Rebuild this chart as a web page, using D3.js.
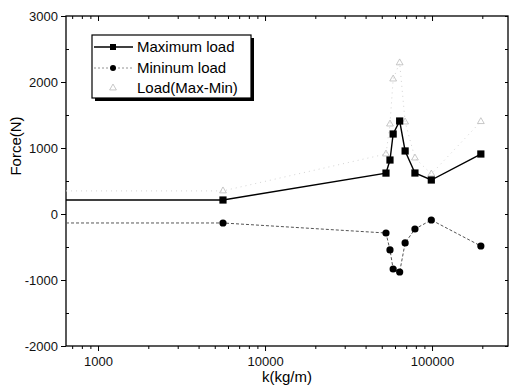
<!DOCTYPE html>
<html lang="en">
<head>
<meta charset="utf-8" />
<title>Force vs k</title>
<script src="https://d3js.org/d3.v7.min.js"></script>
<style>
  body{margin:0;background:#fff;font-family:"Liberation Sans",Arial,sans-serif;}
  svg{display:block;}
  .tick text{font-size:13px;fill:#111;}
</style>
</head>
<body>
<svg id="chart" width="510" height="388"></svg>
<script>
// -------- DATA --------
// first k value lies left of the axis: it only carries the flat lead-in segment
const K       = [100, 5600, 53000, 56000, 58500, 64000, 69000, 79000, 99000, 196000];
const MAXLOAD = [212, 212, 620, 818, 1212, 1409, 955, 621, 515, 909];
const MINLOAD = [-136, -136, -288, -545, -833, -879, -439, -227, -91, -485];
const RANGE   = [350, 350, 909, 1363, 2045, 2290, 1394, 848, 606, 1400];
const SERIES_NAMES = ['Maximum load','Mininum load','Load(Max-Min)'];
const Y_TICKS = [-2000,-1000,0,1000,2000,3000];
const X_TICKS = [1000,10000,100000];

const svg=d3.select('#chart');
const L=66,R=508,T=16,B=346;
const x=d3.scaleLog().domain([643,285000]).range([L,R]);
const y=d3.scaleLinear().domain([-2000,3000]).range([B,T]);

svg.append('clipPath').attr('id','clip').append('rect')
  .attr('x',L).attr('y',T).attr('width',R-L).attr('height',B-T);

// minor ticks for log axis
const xMinor=[];
[100,1000,10000,100000].forEach(d=>{for(let i=2;i<=9;i++){const v=d*i;if(v>643&&v<285000)xMinor.push(v);}});
const yMinor=d3.range(-1500,3000,1000);

// -------- AXES --------
const fmt=d=>String(d);   // plain hyphen for negatives
const ax=svg.append('g');
ax.append('rect').attr('x',L).attr('y',T).attr('width',R-L).attr('height',B-T)
  .attr('fill','none').attr('stroke','#000').attr('stroke-width',1.3);

ax.append('g').attr('transform',`translate(${L},0)`)
  .call(d3.axisLeft(y).tickValues(Y_TICKS).tickSize(5).tickFormat(fmt))
  .call(g=>g.select('.domain').remove());
ax.append('g').attr('transform',`translate(${L},0)`)
  .call(d3.axisRight(y).tickValues(yMinor).tickSize(3).tickFormat(''))
  .call(g=>g.select('.domain').remove());
ax.append('g').attr('transform',`translate(${R},0)`)
  .call(d3.axisLeft(y).tickValues(Y_TICKS.concat(yMinor)).tickSize(3).tickFormat(''))
  .call(g=>g.select('.domain').remove());

ax.append('g').attr('transform',`translate(0,${B})`)
  .call(d3.axisBottom(x).tickValues(X_TICKS).tickSize(5).tickPadding(6).tickFormat(fmt))
  .call(g=>g.select('.domain').remove());
ax.append('g').attr('transform',`translate(0,${B})`)
  .call(d3.axisBottom(x).tickValues(xMinor).tickSize(3).tickFormat(''))
  .call(g=>g.select('.domain').remove());
ax.append('g').attr('transform',`translate(0,${T})`)
  .call(d3.axisBottom(x).tickValues(X_TICKS).tickSize(5).tickFormat(''))
  .call(g=>g.select('.domain').remove());
ax.append('g').attr('transform',`translate(0,${T})`)
  .call(d3.axisBottom(x).tickValues(xMinor).tickSize(3).tickFormat(''))
  .call(g=>g.select('.domain').remove());
ax.selectAll('.tick line').attr('stroke','#000').attr('stroke-width',1);

svg.append('text').attr('x',287).attr('y',382).attr('text-anchor','middle')
  .attr('font-size',15).text('k(kg/m)');
svg.append('text').attr('transform','translate(21,146) rotate(-90)').attr('text-anchor','middle')
  .attr('font-size',15).text('Force(N)');

// -------- SERIES --------
const pts=vals=>K.map((k,i)=>({k,v:vals[i]}));
const line=d3.line().x(d=>x(d.k)).y(d=>y(d.v));
const plot=svg.append('g').attr('clip-path','url(#clip)');
const styles=[
  {vals:RANGE,  stroke:'#d4d4d4',dash:'1,4',w:1},
  {vals:MINLOAD,stroke:'#555',   dash:'3,2',w:1},
  {vals:MAXLOAD,stroke:'#000',   dash:null, w:1.4}
];
styles.forEach(s=>{
  plot.append('path').datum(pts(s.vals)).attr('fill','none')
    .attr('stroke',s.stroke).attr('stroke-width',s.w)
    .attr('stroke-dasharray',s.dash).attr('d',line);
});
const inside=d=>d.k>643;
const tri=d3.symbol().type(d3.symbolTriangle).size(20);
plot.selectAll('.tri').data(pts(RANGE).filter(inside)).enter().append('path')
  .attr('transform',d=>`translate(${x(d.k)},${y(d.v)})`).attr('d',tri)
  .attr('fill','none').attr('stroke','#b0b0b0').attr('stroke-width',0.7);
plot.selectAll('.circ').data(pts(MINLOAD).filter(inside)).enter().append('circle')
  .attr('cx',d=>x(d.k)).attr('cy',d=>y(d.v)).attr('r',3.6).attr('fill','#000');
plot.selectAll('.sq').data(pts(MAXLOAD).filter(inside)).enter().append('rect')
  .attr('x',d=>x(d.k)-3.6).attr('y',d=>y(d.v)-3.6).attr('width',7.2).attr('height',7.2).attr('fill','#000');

// -------- LEGEND --------
const lg=svg.append('g');
lg.append('rect').attr('x',95).attr('y',38).attr('width',159).attr('height',63).attr('fill','#000');
lg.append('rect').attr('x',92).attr('y',35).attr('width',159).attr('height',63)
  .attr('fill','#fff').attr('stroke','#000').attr('stroke-width',1.2);
const legRows=[
  {name:SERIES_NAMES[0],y:47,stroke:'#000',dash:null,w:1.3,mark:'sq'},
  {name:SERIES_NAMES[1],y:68,stroke:'#777',dash:'2,2',w:0.8,mark:'circ'},
  {name:SERIES_NAMES[2],y:88,stroke:null,dash:null,w:0,mark:'tri'}
];
legRows.forEach(r=>{
  if(r.stroke) lg.append('line').attr('x1',94).attr('x2',133).attr('y1',r.y).attr('y2',r.y)
    .attr('stroke',r.stroke).attr('stroke-width',r.w).attr('stroke-dasharray',r.dash);
  if(r.mark==='sq') lg.append('rect').attr('x',110).attr('y',r.y-3).attr('width',6).attr('height',6).attr('fill','#000');
  if(r.mark==='circ') lg.append('circle').attr('cx',113).attr('cy',r.y).attr('r',3).attr('fill','#000');
  if(r.mark==='tri') lg.append('path').attr('transform',`translate(113,${r.y})`).attr('d',tri)
    .attr('fill','none').attr('stroke','#b0b0b0').attr('stroke-width',0.7);
  lg.append('text').attr('x',137).attr('y',r.y+5).attr('font-size',15).text(r.name);
});
</script>
</body>
</html>
